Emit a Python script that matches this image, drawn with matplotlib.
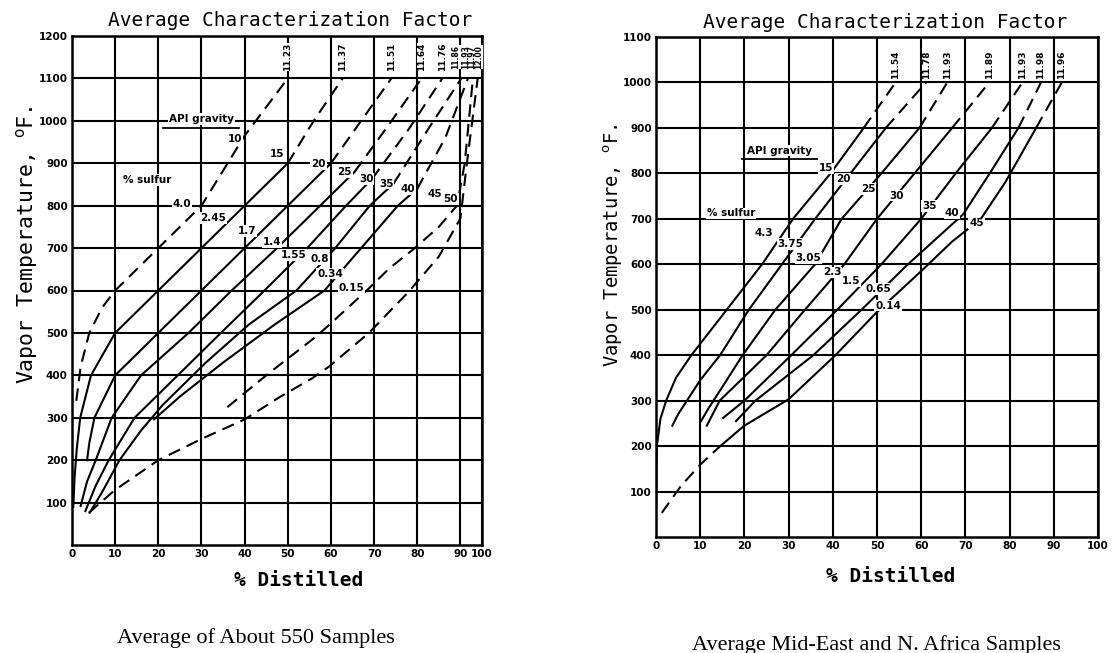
import numpy as np
import matplotlib.pyplot as plt

# ---- left chart: average of about 550 samples ----
l_api = ["10", "15", "20", "25", "30", "35", "40", "45", "50"]
l_sulfur = ["4.0", "2.45", "1.7", "1.4", "1.55", "0.8", "0.34", "0.15", ""]
l_kfac = ["11.23", "11.37", "11.51", "11.64", "11.76", "11.86", "11.93", "11.97", "12.00"]

# curves: % distilled, vapor temperature (F)
l10_x = [1, 2, 4, 7, 10, 20, 30, 40, 50]
l10_y = [340, 420, 500, 560, 600, 700, 800, 965, 1100]
l15_x = [0.3, 0.6, 1.1, 1.9, 4.4, 10, 20, 30, 40, 50, 56, 62.7]
l15_y = [90, 160, 226, 300, 400, 500, 600, 700, 800, 900, 1000, 1100]
l20_x = [3.5, 4, 5.2, 10, 20, 30, 40, 50, 60, 67, 74]
l20_y = [200, 240, 300, 400, 500, 600, 700, 800, 900, 1000, 1100]
l25_x = [2, 3.5, 5.5, 9.2, 16, 27, 37, 47.5, 57.5, 65.5, 73, 81]
l25_y = [92, 150, 200, 300, 400, 500, 600, 700, 800, 880, 985, 1100]
l30_x = [3.1, 5.5, 8.5, 14.5, 24.5, 34.5, 44.6, 54.5, 63.5, 69.5, 78, 85.8]
l30_y = [80, 140, 200, 300, 400, 500, 600, 700, 800, 863, 980, 1100]
l35_x = [4.1, 7, 11, 16, 21, 31, 41, 52, 61, 69, 74.5, 82.5, 90.4]
l35_y = [76, 125, 200, 270, 330, 430, 520, 600, 700, 800, 852, 980, 1100]
l40_x = [19, 25, 35, 47, 58.5, 67, 75.5, 80, 86.5, 93.5]
l40_y = [296, 350, 430, 520, 600, 700, 800, 840, 960, 1100]
l45_x = [36, 45, 56.5, 59.6, 68.8, 73.5, 79.2, 85, 89.2, 92, 95.8]
l45_y = [325, 400, 491, 519, 605, 652, 698, 750, 800, 900, 1100]
l50_x = [3.9, 10, 20, 30, 40, 48, 55.8, 59.6, 68.8, 78, 85, 90, 93, 98]
l50_y = [76, 130, 200, 250, 296, 348, 394, 421, 500, 597, 680, 770, 900, 1100]
l_curves = [(l10_x, l10_y), (l15_x, l15_y), (l20_x, l20_y), (l25_x, l25_y), (l30_x, l30_y),
            (l35_x, l35_y), (l40_x, l40_y), (l45_x, l45_y), (l50_x, l50_y)]
# index range of the solid part of each curve (None = all dashed)
l_solid = [None, (0, 9), (0, 8), (0, 9), (0, 9), (0, 10), (0, 7), None, None]
l_api_at = [(37.8, 957), (47.5, 922), (57.1, 898), (63.2, 879), (68.2, 863),
            (72.8, 852), (77.8, 840), (84, 828), (87.8, 816)]
l_sul_at = [(25.5, 803), (32.8, 771), (40.5, 741), (46.3, 714), (51.3, 683),
            (57.5, 675), (59.8, 640), (64.8, 605), None]
l_k_x = [50, 62.7, 74, 81, 85.8, 89, 92.2, 95.4, 98.6]
l_k_size = [6.5, 6.5, 6.5, 6.5, 6.5, 5.5, 5.5, 5.5, 5.5]

# ---- right chart: mid-east and n. africa samples ----
r_api = ["15", "20", "25", "30", "35", "40", "45"]
r_sulfur = ["4.3", "3.75", "3.05", "2.3", "1.5", "0.65", "0.14"]
r_kfac = ["11.54", "11.78", "11.93", "11.89", "11.93", "11.98", "11.96"]

r15_x = [0, 0.2, 1, 2.3, 4.5, 8, 10, 16, 24, 31, 39.5, 47, 54.2]
r15_y = [60, 200, 260, 300, 350, 400, 425, 500, 600, 700, 800, 900, 1000]
r20_x = [3.7, 5, 7, 10, 14.5, 21, 28.5, 36, 44, 52, 61.1]
r20_y = [245, 270, 300, 345, 400, 500, 600, 700, 800, 900, 1000]
r25_x = [10, 12, 15, 19.6, 27, 36, 42, 51, 59.6, 65.9]
r25_y = [252, 285, 330, 400, 500, 600, 700, 800, 900, 1000]
r30_x = [11.5, 14.4, 25, 33.7, 42.6, 50, 58.5, 67, 75.4]
r30_y = [245, 300, 400, 500, 600, 700, 800, 900, 1000]
r35_x = [15.2, 20, 30.6, 41, 51, 60, 67.8, 76, 82.9]
r35_y = [262, 300, 400, 500, 600, 700, 800, 900, 1000]
r40_x = [18.1, 22.5, 35.6, 46.5, 57, 69.5, 75.5, 82, 87.1]
r40_y = [255, 300, 400, 500, 600, 710, 800, 900, 1000]
r45_x = [1.3, 5.7, 10, 14.3, 20, 30, 40.6, 50, 60, 67, 73.5, 79, 86, 91.8]
r45_y = [53, 113, 159, 198, 245, 303, 400, 495, 585, 650, 700, 780, 900, 1000]
r_curves = [(r15_x, r15_y), (r20_x, r20_y), (r25_x, r25_y), (r30_x, r30_y),
            (r35_x, r35_y), (r40_x, r40_y), (r45_x, r45_y)]
r_solid = [(0, 11), (0, 9), (0, 8), (0, 7), (0, 7), (0, 7), (3, 12)]
r_api_at = [(38.4, 811), (42.4, 787), (48, 765), (54.5, 751), (61.8, 728), (67, 712), (72.5, 690)]
r_sul_at = [(24.4, 668), (30.4, 645), (34.5, 614), (39.9, 582), (44.2, 563), (50.2, 545), (52.5, 509)]

DASH = (0, (6, 3.5))
box = dict(facecolor="white", edgecolor="none", pad=0.6)


def xfwd(x):
    # last column of the left scan is squeezed
    return np.interp(x, [0, 90, 100], [0, 90, 95])


def xinv(x):
    return np.interp(x, [0, 90, 95], [0, 90, 100])


def draw_curve(ax, xs, ys, solid):
    if solid is None:
        ax.plot(xs, ys, color="black", lw=1.5, linestyle=DASH, zorder=3)
        return
    i0, i1 = solid
    ax.plot(xs[i0:i1 + 1], ys[i0:i1 + 1], color="black", lw=1.5, zorder=3)
    if i0 > 0:
        ax.plot(xs[:i0 + 1], ys[:i0 + 1], color="black", lw=1.5, linestyle=DASH, zorder=3)
    if i1 < len(xs) - 1:
        ax.plot(xs[i1:], ys[i1:], color="black", lw=1.5, linestyle=DASH, zorder=3)


def setup(ax, ymax):
    ax.set_xlim(0, 100)
    ax.set_ylim(0, ymax)
    ax.set_xticks(range(0, 101, 10))
    ax.set_yticks(range(100, ymax + 1, 100))
    ax.grid(True, color="black", lw=1.5)
    ax.tick_params(length=0, pad=3, labelsize=7.5)
    for lab in ax.get_xticklabels() + ax.get_yticklabels():
        lab.set_fontweight("bold")
    for sp in ax.spines.values():
        sp.set_linewidth(1.8)
    ax.set_axisbelow(True)


fig = plt.figure(figsize=(11.19, 6.53), dpi=100)
axL = fig.add_axes([72 / 1119, 108 / 653, 410 / 1119, 509 / 653])
axR = fig.add_axes([656 / 1119, 116 / 653, 442 / 1119, 500 / 653])
axL.set_xscale("function", functions=(xfwd, xinv))
setup(axL, 1200)
setup(axR, 1100)

for (xs, ys), sol in zip(l_curves, l_solid):
    draw_curve(axL, xs, ys, sol)
for (xs, ys), sol in zip(r_curves, r_solid):
    draw_curve(axR, xs, ys, sol)

lab_kw = dict(fontsize=7.5, fontweight="bold", ha="center", va="center", bbox=box, zorder=4)
k_kw = dict(rotation=90, fontweight="bold", ha="center", va="center", zorder=4,
            bbox=dict(facecolor="white", edgecolor="none", pad=0.0))
for txt, pos in zip(l_api, l_api_at):
    axL.text(pos[0], pos[1], txt, **lab_kw)
for txt, pos in zip(l_sulfur, l_sul_at):
    if pos is not None:
        axL.text(pos[0], pos[1], txt, **lab_kw)
for txt, kx, ks in zip(l_kfac, l_k_x, l_k_size):
    axL.text(kx, 1150, txt, fontsize=ks, **k_kw)
axL.text(30, 1005, "API gravity", **lab_kw)
axL.plot([21, 38.6], [984, 984], color="black", lw=1.3, zorder=4)
axL.text(17.5, 860, "% sulfur", **lab_kw)

for txt, pos in zip(r_api, r_api_at):
    axR.text(pos[0], pos[1], txt, **lab_kw)
for txt, pos in zip(r_sulfur, r_sul_at):
    axR.text(pos[0], pos[1], txt, **lab_kw)
for txt, (xs, ys) in zip(r_kfac, r_curves):
    axR.text(xs[-1], 1038, txt, fontsize=6.5, **k_kw)
axR.text(28, 850, "API gravity", **lab_kw)
axR.plot([19.5, 36.5], [832, 832], color="black", lw=1.3, zorder=4)
axR.text(17, 712, "% sulfur", **lab_kw)

mono = "DejaVu Sans Mono"
fig.text(290 / 1119, 1 - 20 / 653, "Average Characterization Factor", family=mono,
         fontsize=14, ha="center", va="center")
fig.text(885 / 1119, 1 - 22 / 653, "Average Characterization Factor", family=mono,
         fontsize=14, ha="center", va="center")
fig.text(299 / 1119, 1 - 580 / 653, "% Distilled", family=mono, fontweight="bold",
         fontsize=14, ha="center", va="center")
fig.text(891 / 1119, 1 - 577 / 653, "% Distilled", family=mono, fontweight="bold",
         fontsize=14, ha="center", va="center")
fig.text(27 / 1119, 1 - 245 / 653, r"Vapor Temperature, $^{\mathsf{o}}$F.", family=mono,
         fontsize=15.5, rotation=90, ha="center", va="center")
fig.text(613 / 1119, 1 - 245 / 653, r"Vapor Temperature, $^{\mathsf{o}}$F.", family=mono,
         fontsize=13.5, rotation=90, ha="center", va="center")
fig.text(256 / 1119, 1 - 638 / 653, "Average of About 550 Samples", family="Liberation Serif",
         fontsize=16, ha="center", va="center")
fig.text(876 / 1119, 1 - 645 / 653, "Average Mid-East and N. Africa Samples",
         family="Liberation Serif", fontsize=16, ha="center", va="center")

fig.savefig("out.png", dpi=100)
